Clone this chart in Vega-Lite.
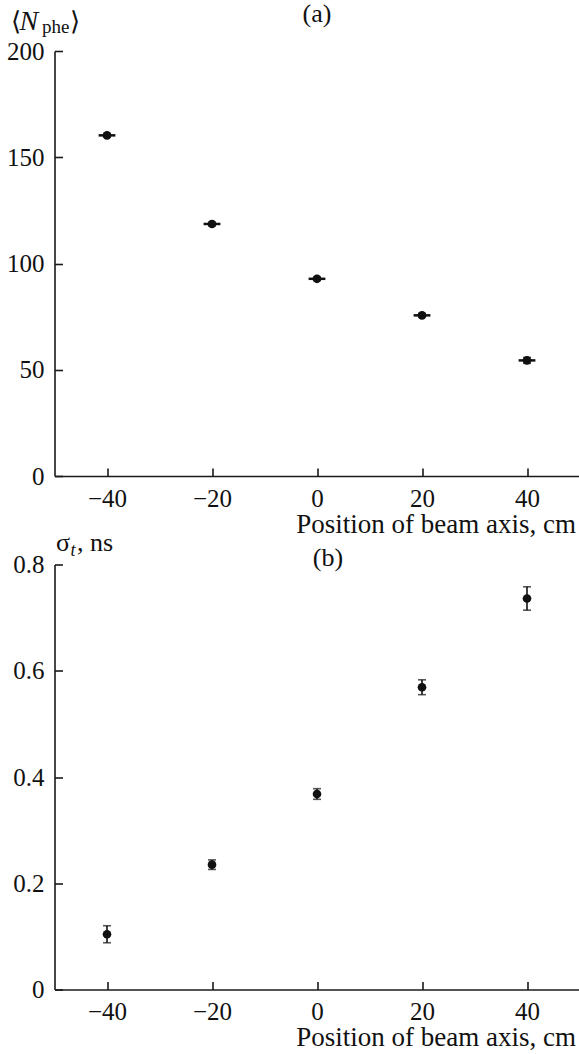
{
  "$schema": "https://vega.github.io/schema/vega-lite/v6.json",
  "background": "white",
  "padding": {"left": 6.5, "top": 1, "right": 0, "bottom": 0},
  "bounds": "flush",
  "spacing": 88.5,
  "config": {
    "font": "Liberation Serif",
    "view": {"stroke": null},
    "axis": {
      "domainColor": "#1a1a1a", "domainWidth": 1.6,
      "tickColor": "#1a1a1a", "tickWidth": 1.6, "tickSize": -8,
      "labelFont": "Liberation Serif", "labelFontSize": 25, "labelColor": "#111",
      "labelPadding": 18, "grid": false,
      "titleFont": "Liberation Serif", "titleFontSize": 27, "titleFontWeight": "normal", "titleColor": "#111"
    },
    "text": {"font": "Liberation Serif", "fontSize": 26, "color": "#111"}
  },
  "vconcat": [
    {
      "width": 525,
      "height": 425,
      "data": {"values": [
        {"pos": -40, "n": 160.3, "xerr": 1.6, "yerr": 0.8},
        {"pos": -20, "n": 118.6, "xerr": 1.6, "yerr": 0.8},
        {"pos": 0, "n": 92.8, "xerr": 1.6, "yerr": 0.8},
        {"pos": 20, "n": 75.6, "xerr": 1.6, "yerr": 0.8},
        {"pos": 40, "n": 54.4, "xerr": 1.6, "yerr": 1.4}
      ]},
      "layer": [
        {
          "mark": {"type": "errorbar", "color": "#111", "thickness": 2.5},
          "encoding": {
            "x": {"field": "pos", "type": "quantitative", "scale": {"domain": [-50, 50], "nice": false},
              "axis": {"values": [-40, -20, 0, 20, 40], "title": "Position of beam axis, cm", "titleAnchor": null, "titleAlign": "right", "titleBaseline": "alphabetic", "titleX": 521, "titleY": 56}},
            "xError": {"field": "xerr"},
            "y": {"field": "n", "type": "quantitative", "scale": {"domain": [0, 200], "nice": false},
              "axis": {"values": [0, 50, 100, 150, 200], "title": null, "labelPadding": 18.5}}
          }
        },
        {
          "mark": {"type": "errorbar", "color": "#111", "thickness": 1.5, "ticks": {"size": 8, "thickness": 1.5}},
          "encoding": {
            "x": {"field": "pos", "type": "quantitative"},
            "y": {"field": "n", "type": "quantitative"},
            "yError": {"field": "yerr"}
          }
        },
        {
          "mark": {"type": "point", "filled": true, "color": "#111", "opacity": 1, "size": 75},
          "encoding": {
            "x": {"field": "pos", "type": "quantitative"},
            "y": {"field": "n", "type": "quantitative"}
          }
        },
        {
          "data": {"values": [{}]},
          "mark": {"type": "text", "text": "(a)", "align": "center", "baseline": "alphabetic", "dy": -29},
          "encoding": {"x": {"datum": 0}, "y": {"datum": 200}}
        },
        {
          "data": {"values": [{}]},
          "mark": {"type": "text", "text": "⟨", "align": "left", "baseline": "alphabetic", "dx": -43.5, "dy": -21},
          "encoding": {"x": {"datum": -50}, "y": {"datum": 200}}
        },
        {
          "data": {"values": [{}]},
          "mark": {"type": "text", "text": "N", "fontStyle": "italic", "align": "left", "baseline": "alphabetic", "dx": -35, "dy": -21, "fontSize": 28},
          "encoding": {"x": {"datum": -50}, "y": {"datum": 200}}
        },
        {
          "data": {"values": [{}]},
          "mark": {"type": "text", "text": "phe", "align": "left", "baseline": "alphabetic", "dx": -12.5, "dy": -18, "fontSize": 19},
          "encoding": {"x": {"datum": -50}, "y": {"datum": 200}}
        },
        {
          "data": {"values": [{}]},
          "mark": {"type": "text", "text": "⟩", "align": "left", "baseline": "alphabetic", "dx": 15.5, "dy": -21},
          "encoding": {"x": {"datum": -50}, "y": {"datum": 200}}
        }
      ]
    },
    {
      "width": 525,
      "height": 425,
      "data": {"values": [
        {"pos": -40, "s": 0.104, "serr": 0.016},
        {"pos": -20, "s": 0.235, "serr": 0.009},
        {"pos": 0, "s": 0.368, "serr": 0.010},
        {"pos": 20, "s": 0.569, "serr": 0.014},
        {"pos": 40, "s": 0.736, "serr": 0.022}
      ]},
      "layer": [
        {
          "mark": {"type": "errorbar", "color": "#111", "thickness": 1.6, "ticks": {"size": 8, "thickness": 1.6}},
          "encoding": {
            "x": {"field": "pos", "type": "quantitative", "scale": {"domain": [-50, 50], "nice": false},
              "axis": {"values": [-40, -20, 0, 20, 40], "title": "Position of beam axis, cm", "titleAnchor": null, "titleAlign": "right", "titleBaseline": "alphabetic", "titleX": 521, "titleY": 56}},
            "y": {"field": "s", "type": "quantitative", "scale": {"domain": [0, 0.8], "nice": false},
              "axis": {"values": [0, 0.2, 0.4, 0.6, 0.8], "title": null, "labelPadding": 18.5, "labelExpr": "datum.value == 0 ? '0' : format(datum.value, '.1f')"}},
            "yError": {"field": "serr"}
          }
        },
        {
          "mark": {"type": "point", "filled": true, "color": "#111", "opacity": 1, "size": 75},
          "encoding": {
            "x": {"field": "pos", "type": "quantitative"},
            "y": {"field": "s", "type": "quantitative"}
          }
        },
        {
          "data": {"values": [{}]},
          "mark": {"type": "text", "text": "(b)", "align": "center", "baseline": "alphabetic", "dx": 11, "dy": 1},
          "encoding": {"x": {"datum": 0}, "y": {"datum": 0.8}}
        },
        {
          "data": {"values": [{}]},
          "mark": {"type": "text", "text": "σ", "align": "left", "baseline": "alphabetic", "dx": 1.5, "dy": -14},
          "encoding": {"x": {"datum": -50}, "y": {"datum": 0.8}}
        },
        {
          "data": {"values": [{}]},
          "mark": {"type": "text", "text": "t", "fontStyle": "italic", "align": "left", "baseline": "alphabetic", "dx": 16, "dy": -9, "fontSize": 18},
          "encoding": {"x": {"datum": -50}, "y": {"datum": 0.8}}
        },
        {
          "data": {"values": [{}]},
          "mark": {"type": "text", "text": ", ns", "align": "left", "baseline": "alphabetic", "dx": 22.5, "dy": -14},
          "encoding": {"x": {"datum": -50}, "y": {"datum": 0.8}}
        }
      ]
    }
  ]
}
